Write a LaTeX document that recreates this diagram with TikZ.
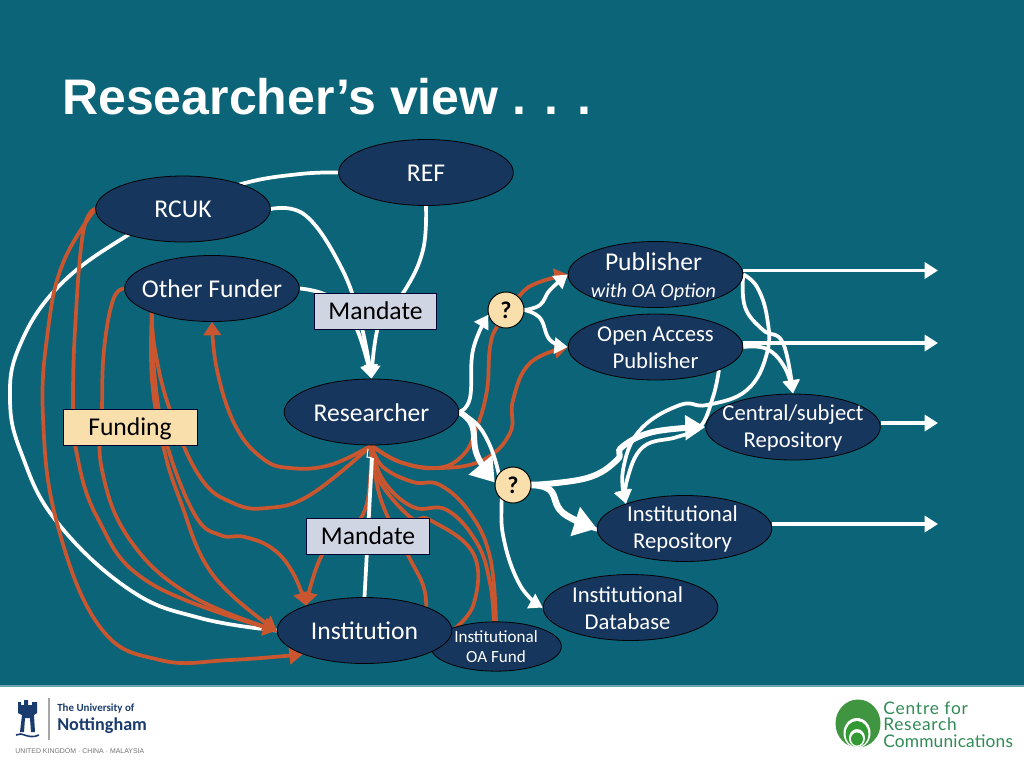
\documentclass[tikz,border=0pt]{standalone}
\usepackage{fontspec}
\setmainfont{Carlito}
\newfontfamily\titlefont{Liberation Sans}
\newfontfamily\lat{Lato}
\usetikzlibrary{shapes.geometric,arrows.meta,backgrounds}
\definecolor{bg}{HTML}{0B6478}
\definecolor{nodefill}{HTML}{17365D}
\definecolor{org}{HTML}{C9562F}
\definecolor{mand}{HTML}{D0D5E3}
\definecolor{fund}{HTML}{F8DFAC}
\definecolor{nott}{HTML}{1A3B6E}
\definecolor{crc}{HTML}{2F8A55}
\tikzset{
 ell/.style={ellipse,draw=black,line width=0.6pt,fill=nodefill,inner sep=0pt,minimum width=131pt,minimum height=49.5pt},
 sm/.style={minimum width=98pt,minimum height=37pt},
 big/.style={text=white,align=center,inner sep=0pt,font=\fontsize{19.2}{21}\selectfont},
 mid/.style={text=white,align=center,inner sep=0pt,font=\fontsize{17}{20.4}\selectfont},
 box/.style={rectangle,draw=black!80!blue,line width=0.7pt,text=black,inner sep=0pt,minimum height=27pt,font=\fontsize{19.2}{21}\selectfont},
 qm/.style={circle,draw=black,line width=0.7pt,fill=fund,text=black,inner sep=0pt,minimum size=27pt,font=\fontsize{18}{20}\selectfont\bfseries},
 wl/.style={draw=white,line width=2.8pt},
 wt/.style={draw=white,line width=4.5pt},
 ol/.style={draw=org,line width=2.8pt},
 wa/.style={-{Triangle[length=10pt,width=12pt]}},
 oa/.style={-{Triangle[length=10pt,width=13pt]}},
 lbl/.style={inner sep=0pt,anchor=west},
 sp/.style={smooth,tension=0.7}
}
\begin{document}
\begin{tikzpicture}[x=0.75pt,y=-0.75pt]
\useasboundingbox (0,0) rectangle (1024,768);

% nodes
\node[ell,label={[big,yshift=-0.6pt]center:REF}] (ref) at (426,172.5) {};
\node[ell,label={[big,yshift=-0.4pt]center:RCUK}] (rcuk) at (183,209) {};
\node[ell,label={[big,yshift=-0.4pt]center:Other Funder}] (of) at (212,288.5) {};
\node[ell,label={[big,yshift=-0.8pt]center:Researcher}] (res) at (371.5,412) {};
\node[ell,label={[big,yshift=-1.5pt,xshift=-1.5pt]center:Publisher\\[-1pt]{\fontsize{15.1}{16}\selectfont\itshape with OA Option}}] (pub) at (655.5,274.5) {};
\node[ell,label={[mid,yshift=-0.7pt]center:Open Access\\Publisher}] (oap) at (655.5,347) {};
\node[ell,label={[mid,yshift=-0.7pt]center:Central/subject\\Repository}] (csr) at (793,427) {};
\node[ell,label={[mid,yshift=-0.4pt,xshift=-1.5pt]center:Institutional\\Repository}] (ir) at (684.5,528.5) {};
\node[ell,label={[mid,yshift=-0.7pt,xshift=-2.2pt]center:Institutional\\Database}] (id) at (630.5,607.5) {};
\node[ell,sm,label={[text=white,align=center,inner sep=0pt,font=\fontsize{12.8}{15.5}\selectfont]center:Institutional\\OA Fund}] (oaf) at (496,646.5) {};
\node[ell,label={[big,yshift=-0.4pt]center:Institution}] (inst) at (364.5,630.5) {};
\node[box,fill=mand,minimum width=92pt] (m1) at (375.5,311) {Mandate};
\node[box,fill=mand,minimum width=92pt] (m2) at (368,536) {Mandate};
\node[box,fill=fund,minimum width=100.5pt,text depth=0pt] (fu) at (130,427) {Funding};
\node[qm] (q1) at (506,310) {?};
\node[qm] (q2) at (513,485) {?};

% free ends of the outgoing arrows
\coordinate (t1) at (938,270.5);
\coordinate (t2) at (938,343);
\coordinate (t3) at (938,423);
\coordinate (t4) at (938,524);

\begin{pgfonlayer}{background}
\fill[bg] (0,0) rectangle (1024,686);
\fill[white] (0,686) rectangle (1024,768);
\fill[bg!60!white] (0,684.5) rectangle (1024,686.5);

% long white line
\draw[wl] plot[sp] coordinates {(ref.west) (300,174) (245,183) (190,203) (128,235) (60,285) (20,345) (10,400) (22,455) (57,522) (130,590) (200,618) (inst.west)};

% orange
\draw[ol,oa] plot[sp] coordinates {(res.south) (330,465) (290,468) (262,458) (235,425) (217,370) (of.south)};
\draw[ol] plot[sp] coordinates {(res.south) (310,495) (267,508) (233,503) (200,477) (170,410) (155,350) (of.202)};
\draw[ol,oa] plot[sp] coordinates {(of.202) (155,380) (167,445) (195,515) (220,535) (245,537) (273,549) (293,573) (inst.157)};
\draw[ol,oa] plot[sp] coordinates {(of.202) (152,380) (163,445) (180,500) (213,575) (inst.west)};
\draw[ol,oa] plot[sp] coordinates {(of.west) (113,300) (104,350) (102,410) (102,470) (130,540) (190,595) (inst.west)};
\draw[ol,oa] plot[sp] coordinates {(rcuk.west) (83,233) (75,330) (73,407) (75,445) (97,517) (150,583) (inst.west)};
\draw[ol,oa] plot[sp] coordinates {(rcuk.west) (63,263) (48,330) (43,417) (57,523) (100,627) (160,660) (230,660) (inst.201)};
\draw[ol,oa] plot[sp] coordinates {(res.south) (367,503) (350,530) (322,555) (inst.157)};
\draw[ol] plot[sp] coordinates {(res.south) (381,500) (408,555) (423,585) (inst.21)};
\draw[ol] plot[sp] coordinates {(res.south) (377,477) (410,517) (430,520) (473,553) (474,603) (inst.east)};
\draw[ol] plot[sp] coordinates {(res.south) (383,480) (413,507) (447,510) (477,543) (490,583) (oaf.95)};
\draw[ol] plot[sp] coordinates {(res.south) (383,467) (413,482) (440,485) (470,513) (490,557) (oaf.north)};
\draw[ol,oa] plot[sp] coordinates {(res.south) (400,462) (437,468) (463,455) (477,427) (487,390) (490,347) (498,325) (520,295) (537,283) (pub.west)};
\draw[ol,oa] plot[sp] coordinates {(res.south) (400,462) (440,468) (483,460) (510,433) (513,400) (530,363) (oap.west)};

% white connectors
\draw[wl,wa] plot[sp] coordinates {(rcuk.east) (305,215) (340,265) (360,320) (res.north)};
\draw[wl,wa] plot[sp] coordinates {(of.east) (330,297) (355,325) (res.north)};
\draw[wl,wa] plot[sp] coordinates {(ref.south) (423,250) (405,290) (380,320) (res.north)};
\draw[wl] (inst.north) -- (372,458);
\draw[white,line width=0.8pt] (372,458) -- (367,457) -- (368,449);
\draw[wl,wa] plot[sp] coordinates {(res.east) (470,398) (473,350) (q1.195)};
\draw[wt,-{Triangle[length=17pt,width=22pt]}] plot[sp] coordinates {(res.east) (472,425) (477,455) (q2.172)};
\draw[wl,wa] plot[sp] coordinates {(res.east) (483,432) (500,480) (503,535) (520,585) (id.west)};
\draw[wl,wa] plot[sp] coordinates {(q1.east) (540,305) (550,290) (pub.west)};
\draw[wl,wa] plot[sp] coordinates {(q1.east) (540,318) (550,340) (oap.west)};
\draw[wt,-{Triangle[length=15pt,width=18pt]}] plot[sp] coordinates {(q2.east) (587,478) (617,460) (622,447) (653,432) (csr.west)};
\draw[wt,line width=5pt,-{Triangle[length=17pt,width=22pt]}] plot[sp] coordinates {(q2.east) (550,490) (563,513) (ir.west)};
\draw[wl,wa] (pub.east |- t1) -- (t1);
\draw[wl,wa] (oap.east |- t2) -- (t2);
\draw[wl,wa] (csr.east |- t3) -- (t3);
\draw[wl,wa] (ir.east |- t4) -- (t4);
\draw[wl,wa] plot[sp] coordinates {(pub.east) (757,287) (767,317) (767,353) (747,390) (707,405) (680,405) (640,430) (623,470) (ir.157)};
\draw[wl,wa] plot[sp] coordinates {(pub.east) (745,307) (763,330) (783,343) (csr.north)};
\draw[wl,wa] plot[sp] coordinates {(oap.east) (767,349) (785,368) (csr.north)};
\draw[wl,wa] plot[sp] coordinates {(oap.-20) (713,397) (700,427) (677,437) (643,447) (627,480) (ir.157)};
\end{pgfonlayer}

% title
\node[lbl,text=white,font=\titlefont\bfseries\fontsize{37.5}{42}\selectfont] (title) at (62,97) {Researcher’s view . . .};

% Nottingham logo
\fill[nott] (18,702) -- (21,702) -- (21,705) -- (24,705) -- (24,700) -- (28,700) -- (28,705) -- (32,705) -- (32,702) -- (37,702) -- (37,713) -- (34,715) -- (35,732) -- (31,732) -- (30,718) -- (25,718) -- (24,732) -- (20,732) -- (22,715) -- (18,713) -- cycle;
\draw[nott,line width=1.2pt] (16,735) .. controls (22,731) and (28,740) .. (39,735);
\draw[black!35,line width=0.8pt] (49,698) -- (49,740);
\node[lbl,text=nott,font=\bfseries\fontsize{8.2}{9}\selectfont] (uni) at (57,709) {The University of};
\node[lbl,text=nott,font=\bfseries\fontsize{13.6}{15}\selectfont] (nt) at (57,726) {Nottingham};
\node[lbl,text=black!55,font=\fontsize{5.2}{6}\selectfont] (uk) at (15,751) {\titlefont UNITED KINGDOM · CHINA · MALAYSIA};

% CRC logo
\fill[green!45!black!75!white] (858,723.5) ellipse [x radius=22.5,y radius=24];
\fill[white] (857,733) ellipse [x radius=13.5,y radius=15];
\fill[green!50!black!80] (857,734) ellipse [x radius=11.5,y radius=13];
\fill[white] (857,738) ellipse [x radius=8,y radius=9];
\fill[green!50!black!80] (857,739) ellipse [x radius=6,y radius=6.5];
\node[lbl,text=crc,font=\lat\fontsize{13}{14}\selectfont\addfontfeature{LetterSpace=5}] (c1) at (883,708) {Centre for};
\node[lbl,text=crc,font=\lat\fontsize{13}{14}\selectfont\addfontfeature{LetterSpace=4}] (c2) at (883,724) {Research};
\node[lbl,text=crc,font=\lat\fontsize{13}{14}\selectfont\addfontfeature{LetterSpace=1}] (c3) at (883,741) {Communications};
\end{tikzpicture}
\end{document}
